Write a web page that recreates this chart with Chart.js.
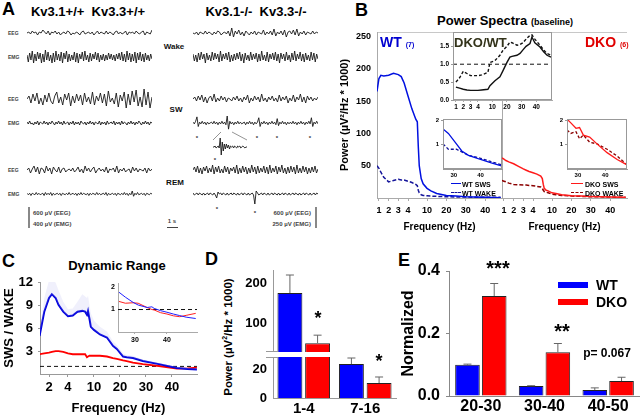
<!DOCTYPE html>
<html>
<head>
<meta charset="utf-8">
<script src="https://cdn.jsdelivr.net/npm/chart.js@4.4.0/dist/chart.umd.min.js"></script>
<style>
  body { margin: 0; width: 640px; height: 416px; position: relative; overflow: hidden; background: #fff;
         font-family: Arial, "Liberation Sans", sans-serif; font-weight: bold; }
  canvas, .abs { position: absolute; }
  .t { position: absolute; white-space: nowrap; line-height: 1; }
  .c { transform: translate(-50%, -50%); }
  .l { transform: translate(0, -50%); }
  .r { transform: translate(-100%, -50%); }
  .small { font-size: 5px; color: #444; }
  .ast { font-size: 6px; color: #333; }
</style>
</head>
<body>
<!-- panel A -->
<div class="t l" style="left:2px;top:9px;font-size:18px">A</div>
<div class="t c" style="left:88px;top:11px;font-size:13px">Kv3.1+/+&nbsp;&nbsp;Kv3.3+/+</div>
<div class="t c" style="left:256px;top:11px;font-size:13px">Kv3.1-/-&nbsp;&nbsp;Kv3.3-/-</div>
<div class="t l small" style="left:8px;top:33px">EEG</div>
<div class="t l small" style="left:8px;top:57px">EMG</div>
<div class="t l small" style="left:8px;top:99px">EEG</div>
<div class="t l small" style="left:8px;top:123px">EMG</div>
<div class="t l small" style="left:8px;top:170px">EEG</div>
<div class="t l small" style="left:8px;top:194px">EMG</div>
<div class="t c" style="left:174px;top:47px;font-size:8px;color:#111">Wake</div>
<div class="t c" style="left:176px;top:110px;font-size:8px;color:#111">SW</div>
<div class="t c" style="left:175px;top:183px;font-size:8px;color:#111">REM</div>
<div class="t c ast" style="left:197px;top:138px">*</div>
<div class="t c ast" style="left:257px;top:138px">*</div>
<div class="t c ast" style="left:277px;top:138px">*</div>
<div class="t c ast" style="left:310px;top:138px">*</div>
<div class="t c ast" style="left:215px;top:160px">*</div>
<div class="t c ast" style="left:217px;top:209px">*</div>
<div class="t c ast" style="left:255px;top:213px">*</div>
<div class="abs" style="left:28px;top:207px;width:2px;height:21px;background:#888"></div>
<div class="t l" style="left:33px;top:213px;font-size:6px;color:#444">600 µV (EEG)</div>
<div class="t l" style="left:33px;top:224px;font-size:6px;color:#444">400 µV (EMG)</div>
<div class="abs" style="left:315px;top:207px;width:2px;height:21px;background:#888"></div>
<div class="t r" style="left:311px;top:213px;font-size:6px;color:#444">600 µV (EEG)</div>
<div class="t r" style="left:311px;top:224px;font-size:6px;color:#444">250 µV (EMG)</div>
<div class="t c" style="left:172px;top:221px;font-size:6px;color:#444">1 s</div>
<div class="abs" style="left:167px;top:227px;width:11px;height:1px;background:#444"></div>
<svg class="abs" style="left:0;top:0" width="330" height="240">
  <line x1="221" y1="132" x2="213" y2="140" stroke="#666" stroke-width="0.7"/>
  <line x1="232" y1="132" x2="247" y2="140" stroke="#666" stroke-width="0.7"/>
</svg>

<!-- panel B -->
<div class="t l" style="left:355px;top:10px;font-size:18px">B</div>
<div class="t c" style="left:505px;top:20px;font-size:13px">Power Spectra <span style="font-size:9px">(baseline)</span></div>
<div class="abs" style="left:377px;top:32px;width:250px;border-top:1px solid #c8c8c8"></div>

<!-- panel C -->
<div class="t l" style="left:2px;top:261px;font-size:18px">C</div>
<div class="t c" style="left:117px;top:265px;font-size:13px">Dynamic Range</div>

<!-- panel D -->
<div class="t l" style="left:205px;top:259px;font-size:18px">D</div>
<div class="t c" style="left:228px;top:337px;font-size:11.5px;transform:translate(-50%,-50%) rotate(-90deg)">Power (µV<sup style="font-size:7px">2</sup>/Hz * 1000)</div>

<!-- panel E -->
<div class="t l" style="left:398px;top:260px;font-size:18px">E</div>

<script>
// ---------- Panel A: EEG / EMG traces (read by eye, arbitrary units) ----------
const wtWakeEEG = [0,1,-1,2,0,1,-2,1,0,3,1,-1,2,-2,1,0,2,-1,1,-2,0,1,-1,2,1,-2,0,-1,1,0,-2,1,2,-1,0,1,-1,1,-2,0,2,-1,1,0,-1,2,-1,1,0,-2,1,2,-1,1,-1,0,2,-2,1,0,1,-1,2,0,-1,1,2,-2,1,0,-1,3];
const wtWakeEMG = [2,-5,4,-3,6,-6,3,-4,5,-2,4,-6,3,-5,7,-3,5,-4,2,-6,4,-5,6,-3,3,-4,5,-6,4,-2,6,-5,3,-4,2,-3,5,-5,4,-6,3,-2,5,-4,6,-3,2,-5,4,-4,3,-2,5,-3,4,-5,2,-3,3,-4,2,-3,4,-2,3,-3,2,-4,3,-2,4,-3,5,-4,3,-5,6,-3,4,-5,3,-4,5,-6,4,-3,5,-4,3,-5,4,-3,2,-4,3,-2];
const wtSwEEG = [0,3,-4,5,-2,6,-5,1,-6,4,-3,6,-2,-5,3,7,-4,2,-6,5,-1,6,-7,3,-4,5,-2,4,-6,6,-3,2,-5,7,-6,3,-2,6,-4,5,-7,8,-3,1,-5,6,-8,4,-2,7,-9,5,-6,8,-3,9,-7,2,-8,10,-6,7,-9,2];
const wtSwEMG = [1,-1,2,-1,0,-2,1,-1,2,-2,1,0,-1,2,-1,1,-2,1,-1,2,0,-2,1,-1,2,-1,1,-2,2,-1,0,1,-2,1,-1,2,-2,1,-1,1,-2,2,0,-1,1,-2,1,-1,2,-1,1,-2,1,0,-1,2,-2,1,-1,1,-2,2,-1,0,1,-1,2,-2,1,-1,1,-2,2,-1,1,0,-2,1,-1,2,-1,1,-2,1,-1,2,0,-2,1,-1,2,-1,1,-2,1,0];
const wtRemEEG = [0,2,-3,1,4,-2,3,-4,2,1,-3,4,-1,2,-4,3,0,-2,3,-3,1,2,-2,0,1,-1,2,-2,0,3,-2,1,-3,4,-1,2,-2,1,3,-3,0,2,-1,1,-2,3,-3,1,0,2,-2,4,-3,1,-1,2,-2,0,1,-3,3,-1,2,-2,1,0,-1,2,-3,2,-1,1];
const wtRemEMG = [1,-1,1,-2,1,0,-1,2,-1,1,-1,0,1,-2,2,-1,1,-1,2,-2,1,-1,0,1,-1,1,-2,1,0,-1,1,-1,2,-1,0,1,-1,1,-2,1,-1,2,-1,1,0,-1,1,-2,1,-1,1,0,-1,2,-1,1,-1,0,1,-1,2,-2,1,-1,0,1,-1,1,-2,1,0,-1,1,-1,2,-1,1,-2,1,-1,4,-3,1,-1,2,-1,0,1,-1,1,-2,1,0,-1,1,0];
const koWakeEEG = [0,-1,1,-2,1,0,-1,2,-1,1,0,-2,1,-1,2,1,-2,0,1,-1,2,-3,5,-4,2,-1,3,-2,1,-3,2,0,-2,1,-1,2,-2,1,0,-1,3,-2,1,-1,2,-2,4,-3,1,-1,2,-2,3,-4,1,2,-1,3,-2,4,-3,1,-1,2,-2,1,0,-1,2,-1,1,0];
const koWakeEMG = [3,-4,2,-5,4,-3,5,-2,3,-6,4,-3,2,-4,5,-3,4,-2,3,-5,6,-4,3,-2,4,-3,5,-5,2,-4,3,-3,4,-2,5,-4,3,-6,4,-3,2,-4,5,-3,3,-2,4,-5,3,-4,6,-3,2,-4,5,-5,3,-2,4,-3,5,-4,3,-6,4,-2,3,-4,5,-3,2,-5,4,-3,6,-4,3,-2,5,-4,3,-5,4,-3,2,-4,5,-3,4,-5,3,-2];
const koSwEEG = [0,2,-2,3,-1,4,-3,2,-4,1,3,-2,5,-3,1,-2,3,-1,2,-3,1,0,-2,2,-1,3,-2,1,-3,2,-1,4,-4,1,-2,3,-1,2,-3,5,-2,1,-3,2,-1,3,-2,1,-3,4,-2,2,-1,3,-4,1,-2,4,-3,2,-1,5,-3,2,-4,3,-1,2,-2,1,-1,2];
const koSwEMG = [1,-1,2,7,-4,1,-1,2,-1,1,-2,1,-1,0,1,-1,2,-1,1,-2,1,-1,2,-1,1,-2,8,-7,2,-1,1,-2,1,-1,2,-1,1,-1,0,1,-2,1,-1,2,-1,1,-2,1,-1,1,6,-4,1,-1,2,-1,1,-2,1,-1,2,-1,1,-2,5,-3,1,-1,2,-1,1,-2,1,-1,1,-1,2,-1,1,-2,1,-1,2,-1,1,-2,1,-1,2,-1,6,-4,1,-1,2,-1];
const koRemEEG = [0,3,-2,4,-3,2,-4,3,-1,4,-3,2,-2,5,-4,3,-2,4,-3,1,-3,4,-2,3,-4,2,-1,3,-3,5,-4,2,-3,4,-2,3,-4,2,-3,5,-2,3,-4,4,-3,2,-2,4,-3,3,-4,5,-3,2,-2,4,-4,3,-2,5,-3,2,-4,3,-3,4,-2,3,-4,5,-3,2,-3,4,-2,3,-4,2,-3,3,-2,4,-3,1];
const koRemEMG = [1,-1,0,1,-1,1,0,-1,1,-1,0,1,-1,1,0,-1,1,-1,-4,2,0,1,-1,1,0,-1,1,-1,0,1,-1,1,0,-1,1,-1,0,1,-1,1,0,-1,1,-1,0,1,-1,-10,3,1,-1,0,1,-1,1,0,-1,1,-1,0,1,-1,1,0,-1,1,-1,0,1,-1,1,0,-1,1,-1,0,1,-1,1,0,-1,1,-1,0,1,-1,1,0,-1,1,-1,0,1,-1,1,0];
const zoomTrace = [0,0,1,-1,0,1,-1,9,-8,5,-4,3,-2,3,-1,2,-2,1,0,1,-1,1,0,-1,1,0,1,-1,0,1,0,-1,0,0];

// ---------- Panel B: power spectra ----------
const freqB = [0.8,1,1.2,1.5,2,2.5,3,3.3,3.6,4,4.4,4.8,5,5.5,6,7,8,10,12,15,20,25,30,40,48];
const wtSws = [165,185,190,189,190,193,191,188,178,158,138,122,118,80,50,30,22,15,11,7,4,3,2,1,0.5];
const wtWake = [50,46,40,32,25,27,29,28,28,26,24,21,19,12,8,5,4,3.5,3,2.5,2,1.5,1.5,1,1];
const dkoSws = [62,60,58,56,53,49,45,43,41,39,37,34,30,21,15,12,11,8,7,5,3.5,3,2.5,1.5,1];
const dkoWake = [27,26,25,23,21,20.5,20,20,19.5,19,18,17,15,12,10,9,8,6,5,4,3,2.5,2,1.5,1];
const freqTicksB = [1,2,3,4,10,20,30,40];
const powerTicks = [50,100,150,200,250];

const ratioF = [1,1.5,2,2.5,3,3.5,4,4.5,7,8.4,11.8,15.2,17.3,20,22,23.4,26.8,28.9,30.9,33,35.7,37,39,42.5,45,47.3,50];
const ratioSws = [0.36,0.33,0.3,0.28,0.27,0.27,0.27,0.28,0.3,0.4,0.54,0.65,0.82,1.05,1.2,1.22,1.25,1.3,1.4,1.5,1.58,1.76,1.6,1.48,1.35,1.25,1.2];
const ratioWake = [0.5,0.62,0.8,0.74,0.68,0.68,0.68,0.7,0.77,1.05,1.1,1.25,1.39,1.5,1.62,1.6,1.53,1.55,1.6,1.7,1.81,1.82,1.7,1.53,1.4,1.3,1.25];
const ratioTicks = [0,0.5,1,1.5];

const wtInsF = [26,28,31,33,35.5,38,40,44,47.8];
const wtInsSws = [1.64,1.46,1.03,0.74,0.56,0.47,0.39,0.25,0.13];
const wtInsWake = [1.03,0.81,0.81,0.7,0.56,0.5,0.44,0.3,0.17];
const dkoInsF = [26,27.4,29.3,30.6,32,34.3,37,40.7,44.4,48];
const dkoInsSws = [2.05,1.89,1.67,1.7,1.39,1.31,1.03,0.67,0.39,0.17];
const dkoInsWake = [1.6,1.46,1.53,1.24,1.39,1.1,1.03,0.81,0.53,0.17];
const insTicksX = [30,40];
const insTicksY = [1,2];

// ---------- Panel C: SWS / WAKE ----------
const freqC = [1,1.5,2,2.3,2.7,3,3.5,4,4.5,5,5.5,6.6,7.3,7.7,8.3,8.8,10,12.3,15,17.3,18.8,21.2,22.6,25,28.8,35,41.9,46,49.6];
const wtC = [5,8.2,10,10.5,10,9.1,8.2,7.6,7.7,8.2,8.3,8.2,7.8,8.3,7.2,6.2,5.8,5.2,4.8,3.7,3.3,2.3,2.2,2.1,1.7,1.3,0.8,0.65,0.6];
const wtCUpper = [5.5,10,12.3,12.5,12,11,9.5,8.5,8.6,9.5,10.5,10.2,10,10.3,9,8,7,6.2,5.6,4.3,3.8,2.7,2.5,2.4,1.9,1.45,0.95,0.8,0.7];
const dkoC = [2.6,2.7,2.8,2.9,3,3,2.9,2.7,2.6,2.6,2.6,2.6,2.2,2.3,2.4,2.4,2.4,2.4,2.3,2.1,2,1.8,1.7,1.5,1.3,1.05,0.7,0.74,0.83];
const freqTicksC = [2,4,10,20,30,40];
const rangeTicks = [3,6,9,12];
const cInsF = [25,27,29.4,31,33.8,35.3,36,38,40,42,44,46,49];
const cInsWt = [1.77,1.55,1.32,1.2,1.09,1.12,1.05,0.95,0.88,0.8,0.73,0.66,0.6];
const cInsDko = [1.36,1.28,1.3,1.28,1.09,1.0,0.98,0.86,0.8,0.72,0.68,0.74,0.83];

// ---------- Panel D: band power ----------
const dGroups = ['1-4', '7-16'];
const dWt = [175, 23.4];
const dWtErr = [45, 4.2];
const dDko = [50, 10.3];
const dDkoErr = [20, 4.2];

// ---------- Panel E: normalized power ----------
const eGroups = ['20-30', '30-40', '40-50'];
const eWt = [0.1, 0.032, 0.019];
const eWtErr = [0.002, 0.001, 0.007];
const eDko = [0.32, 0.14, 0.048];
const eDkoErr = [0.04, 0.028, 0.012];

// ---------- setup ----------
Chart.defaults.font.family = 'Arial, "Liberation Sans", sans-serif';
Chart.defaults.font.weight = 'bold';
Chart.defaults.color = '#000';
Chart.defaults.animation = false;
Chart.defaults.responsive = false;
Chart.defaults.events = [];
Chart.defaults.plugins.legend.display = false;
Chart.defaults.plugins.tooltip.enabled = false;

const BLUE = '#0010e0', NAVY = '#14149a', RED = '#ff1a1a', DARKRED = '#8b0000';
const noGrid = { display: false, drawTicks: false };

function canvasAt(left, top, w, h) {
    const c = document.createElement('canvas');
    c.width = w;
    c.height = h;
    c.style.left = left + 'px';
    c.style.top = top + 'px';
    document.body.appendChild(c);
    return c;
}

// fixed axis sizes, and no extra padding for labels hanging over the ends
const fitW = w => s => { s.width = w; s.paddingTop = 0; s.paddingBottom = 0; };
const fitH = h => s => { s.height = h; s.paddingLeft = 0; s.paddingRight = 0; };

// broken frequency axes: 1-4 Hz stretched, the rest compressed
const toUB = f => f < 4.95 ? f : 3.96 + f / 5;
const toUC = f => f < 5.5 ? f : 4 + 0.274 * f;
const pts = (xs, ys, tx) => xs.map((f, i) => ({ x: tx ? tx(f) : f, y: ys[i] }));
const fixedTicks = list => s => { s.ticks = list.map(v => ({ value: v })); };
const line = (data, color, width, dash) => ({
    data, borderColor: color, borderWidth: width, borderDash: dash || [],
    showLine: true, pointRadius: 0, tension: 0
});

const whiteArea = {
    id: 'whiteArea',
    beforeDraw(chart) {
        const a = chart.chartArea;
        chart.ctx.save();
        chart.ctx.fillStyle = '#fff';
        chart.ctx.fillRect(a.left, a.top, a.right - a.left, a.bottom - a.top);
        chart.ctx.restore();
    }
};
const frame = {
    id: 'frame',
    afterDraw(chart) {
        const a = chart.chartArea;
        chart.ctx.save();
        chart.ctx.strokeStyle = '#999';
        chart.ctx.lineWidth = 1;
        chart.ctx.strokeRect(a.left + 0.5, a.top + 0.5, a.right - a.left - 1, a.bottom - a.top - 1);
        chart.ctx.restore();
    }
};
// dashed reference line at ratio = 1
const refLine = {
    id: 'refLine',
    beforeDatasetsDraw(chart) {
        const a = chart.chartArea, y = chart.scales.y.getPixelForValue(1);
        const ctx = chart.ctx;
        ctx.save();
        ctx.strokeStyle = '#111';
        ctx.lineWidth = 1;
        ctx.setLineDash([4, 3]);
        ctx.beginPath();
        ctx.moveTo(a.left, y);
        ctx.lineTo(a.right, y);
        ctx.stroke();
        ctx.restore();
    }
};
const errorBars = {
    id: 'errorBars',
    afterDatasetsDraw(chart) {
        const ctx = chart.ctx, a = chart.chartArea, y = chart.scales.y;
        ctx.save();
        ctx.beginPath();
        ctx.rect(a.left, a.top, a.right - a.left, a.bottom - a.top);
        ctx.clip();
        ctx.strokeStyle = '#666';
        ctx.lineWidth = 1;
        chart.data.datasets.forEach((ds, i) => {
            chart.getDatasetMeta(i).data.forEach((bar, j) => {
                const top = y.getPixelForValue(ds.data[j] + ds.err[j]);
                if (top > a.bottom - 1) return; // whisker lies in the other half of the broken axis
                ctx.beginPath();
                ctx.moveTo(bar.x, bar.y);
                ctx.lineTo(bar.x, top);
                ctx.moveTo(bar.x - 4, top);
                ctx.lineTo(bar.x + 4, top);
                ctx.stroke();
            });
        });
        ctx.restore();
    }
};

// ---------- Panel A ----------
const traceSpecs = [
    { data: wtWakeEEG, x: 27, y: 33, w: 125, h: 10, amp: 5 },
    { data: wtWakeEMG, x: 27, y: 57, w: 125, h: 14, amp: 7 },
    { data: wtSwEEG, x: 27, y: 99, w: 125, h: 22, amp: 11 },
    { data: wtSwEMG, x: 27, y: 123, w: 125, h: 6, amp: 3 },
    { data: wtRemEEG, x: 27, y: 170, w: 125, h: 10, amp: 5 },
    { data: wtRemEMG, x: 27, y: 194, w: 125, h: 6, amp: 4 },
    { data: koWakeEEG, x: 193, y: 33, w: 125, h: 10, amp: 5 },
    { data: koWakeEMG, x: 193, y: 57, w: 125, h: 14, amp: 7 },
    { data: koSwEEG, x: 193, y: 99, w: 125, h: 12, amp: 6 },
    { data: koSwEMG, x: 193, y: 123, w: 125, h: 14, amp: 8 },
    { data: koRemEEG, x: 193, y: 170, w: 125, h: 12, amp: 6 },
    { data: koRemEMG, x: 193, y: 194, w: 125, h: 20, amp: 10 },
    { data: zoomTrace, x: 213, y: 147, w: 34, h: 18, amp: 9 }
];
traceSpecs.forEach(spec => {
    new Chart(canvasAt(spec.x, spec.y - spec.h / 2, spec.w, spec.h), {
        type: 'line',
        data: {
            labels: spec.data.map((_, i) => i),
            datasets: [{ data: spec.data, borderColor: '#1a1a1a', borderWidth: 0.9, pointRadius: 0, tension: 0 }]
        },
        options: { scales: { x: { display: false }, y: { display: false, min: -spec.amp, max: spec.amp } } }
    });
});

// ---------- Panel B ----------
function spectrumX(min, max, size, height, withTitle) {
    return {
        type: 'linear', min, max,
        afterBuildTicks: s => { s.ticks = freqTicksB.map(f => ({ value: toUB(f) })); },
        afterFit: fitH(height),
        ticks: { font: { size }, padding: withTitle ? 4 : 1, maxRotation: 0, autoSkip: false, callback: (v, i) => freqTicksB[i] },
        grid: { drawOnChartArea: false, tickLength: withTitle ? 3 : 2, color: '#aaa' },
        border: { color: '#aaa' },
        title: { display: withTitle, text: 'Frequency (Hz)', font: { size: 10 }, padding: { top: 0, bottom: 7 } }
    };
}

new Chart(canvasAt(330, 22, 175, 218), {
    type: 'scatter',
    data: { datasets: [line(pts(freqB, wtSws, toUB), BLUE, 1.5), line(pts(freqB, wtWake, toUB), NAVY, 1.5, [4, 2])] },
    options: {
        layout: { padding: { top: 10, right: 3 } },
        scales: {
            x: spectrumX(0.8, 13.7, 9, 42, true),
            y: {
                min: 0, max: 257, afterBuildTicks: fixedTicks(powerTicks), afterFit: fitW(47),
                ticks: { font: { size: 9 }, padding: 6 }, grid: noGrid, border: { color: '#aaa' },
                title: { display: true, text: 'Power (µV²/Hz * 1000)', font: { size: 11 }, padding: { top: 8 } }
            }
        }
    }
});

new Chart(canvasAt(500, 22, 140, 218), {
    type: 'scatter',
    data: { datasets: [line(pts(freqB, dkoSws, toUB), RED, 1.5), line(pts(freqB, dkoWake, toUB), DARKRED, 1.5, [4, 2])] },
    options: {
        layout: { padding: { top: 10, right: 13 } },
        scales: {
            x: spectrumX(0.8, 13.7, 9, 42, true),
            y: { min: 0, max: 257, afterFit: fitW(2), ticks: { display: false }, grid: noGrid, border: { color: '#aaa' } }
        }
    }
});

// DKO / WT ratio inset
new Chart(canvasAt(433, 28, 121, 87), {
    type: 'scatter',
    data: { datasets: [line(pts(ratioF, ratioSws, toUB), '#111', 1.4), line(pts(ratioF, ratioWake, toUB), '#111', 1.4, [3, 2])] },
    options: {
        layout: { padding: { top: 4, right: 2 } },
        scales: {
            x: spectrumX(0.6, 14.1, 6.5, 15, false),
            y: {
                min: 0, max: 1.9, afterBuildTicks: fixedTicks(ratioTicks), afterFit: fitW(20),
                ticks: { font: { size: 6.5 }, padding: 2, callback: v => v.toFixed(1) },
                grid: { drawOnChartArea: false, tickLength: 2, color: '#999' }, border: { color: '#999' }
            }
        }
    },
    plugins: [whiteArea, refLine, frame]
});

function zoomInset(left, width, xs, solid, dashed, cSolid, cDashed) {
    new Chart(canvasAt(left, 116, width, 64), {
        type: 'scatter',
        data: { datasets: [line(pts(xs, solid), cSolid, 1.3), line(pts(xs, dashed), cDashed, 1.3, [3, 2])] },
        options: {
            layout: { padding: { top: 3, right: 2 } },
            scales: {
                x: {
                    type: 'linear', min: 26, max: 48, afterBuildTicks: fixedTicks(insTicksX), afterFit: fitH(11),
                    ticks: { font: { size: 6 }, padding: 1 }, grid: { drawOnChartArea: false, tickLength: 2, color: '#999' }, border: { color: '#999' }
                },
                y: {
                    min: 0, max: 2.05, afterBuildTicks: fixedTicks(insTicksY), afterFit: fitW(15),
                    ticks: { font: { size: 6 }, padding: 2 }, grid: { drawOnChartArea: false, tickLength: 2, color: '#999' }, border: { color: '#999' }
                }
            }
        },
        plugins: [whiteArea, frame]
    });
}
zoomInset(428, 76, wtInsF, wtInsSws, wtInsWake, BLUE, NAVY);
zoomInset(552, 77, dkoInsF, dkoInsSws, dkoInsWake, RED, DARKRED);

// ---------- Panel C ----------
new Chart(canvasAt(0, 262, 200, 154), {
    type: 'scatter',
    data: {
        datasets: [
            Object.assign(line(pts(freqC, wtCUpper, toUC), 'rgba(0,0,0,0)', 0), { fill: 1, backgroundColor: 'rgba(170,170,240,0.18)' }),
            line(pts(freqC, wtC, toUC), '#0000dd', 2),
            line(pts(freqC, dkoC, toUC), '#ff0000', 1.8)
        ]
    },
    options: {
        layout: { padding: { top: 20, right: 3 } },
        scales: {
            x: {
                type: 'linear', min: 1.05, max: 17.6,
                afterBuildTicks: s => { s.ticks = freqTicksC.map(f => ({ value: toUC(f) })); },
                afterFit: fitH(42),
                ticks: { font: { size: 13 }, padding: 3, maxRotation: 0, autoSkip: false, callback: (v, i) => freqTicksC[i] },
                grid: { drawOnChartArea: false, tickLength: 3, color: '#999' }, border: { color: '#999' },
                title: { display: true, text: 'Frequency (Hz)', font: { size: 13 }, padding: { top: 0, bottom: 0 } }
            },
            y: {
                min: 0, max: 12.1, afterBuildTicks: fixedTicks(rangeTicks), afterFit: fitW(40),
                ticks: { font: { size: 13 }, padding: 5 }, grid: { drawOnChartArea: false, tickLength: 2, color: '#999' }, border: { color: '#999' },
                title: { display: true, text: 'SWS / WAKE', font: { size: 13 }, padding: { top: 2 } }
            }
        }
    },
    plugins: [refLine]
});

new Chart(canvasAt(100, 279, 99, 66), {
    type: 'scatter',
    data: { datasets: [line(pts(cInsF, cInsWt), '#2020ff', 1), line(pts(cInsF, cInsDko), '#ff2020', 1)] },
    options: {
        layout: { padding: { top: 4, right: 2 } },
        scales: {
            x: {
                type: 'linear', min: 24.7, max: 49.4, afterBuildTicks: fixedTicks(insTicksX), afterFit: fitH(13),
                ticks: { font: { size: 7 }, padding: 2 }, grid: { drawOnChartArea: false, tickLength: 2, color: '#aaa' }, border: { color: '#aaa' }
            },
            y: {
                min: 0, max: 2.18, afterBuildTicks: fixedTicks(insTicksY), afterFit: fitW(18),
                ticks: { font: { size: 7 }, padding: 3 }, grid: noGrid, border: { color: '#aaa' }
            }
        }
    },
    plugins: [whiteArea, refLine]
});

// ---------- Panel D (broken y axis: two stacked charts) ----------
function bandBars(top, height, yMin, yMax, ticks, showX) {
    new Chart(canvasAt(205, top, 193, height), {
        type: 'bar',
        data: {
            labels: dGroups,
            datasets: [
                { data: dWt, err: dWtErr, backgroundColor: '#0000ff', borderColor: '#222', borderWidth: 1, clip: 0 },
                { data: dDko, err: dDkoErr, backgroundColor: '#ff0000', borderColor: '#222', borderWidth: 1, clip: 0 }
            ]
        },
        options: {
            datasets: { bar: { categoryPercentage: 0.9, barPercentage: 0.9 } },
            layout: { padding: { top: showX ? 0 : 10, right: 2 } },
            scales: {
                x: showX
                    ? { afterFit: fitH(18), ticks: { font: { size: 15 }, padding: 2 }, grid: noGrid, border: { color: '#999' } }
                    : { display: false },
                y: {
                    min: yMin, max: yMax, afterBuildTicks: fixedTicks(ticks), afterFit: fitW(68),
                    ticks: { font: { size: 13 }, padding: 6 }, grid: noGrid, border: { color: '#999' }
                }
            }
        },
        plugins: [errorBars]
    });
}
bandBars(260, 92, 28, 232.5, [100, 200], false);
bandBars(357, 59, 0, 28.3, [0, 20], true);

// ---------- Panel E ----------
new Chart(canvasAt(398, 260, 242, 156), {
    type: 'bar',
    data: {
        labels: eGroups,
        datasets: [
            { data: eWt, err: eWtErr, backgroundColor: '#0000ff', borderColor: '#222', borderWidth: 1 },
            { data: eDko, err: eDkoErr, backgroundColor: '#ff0000', borderColor: '#222', borderWidth: 1 }
        ]
    },
    options: {
        datasets: { bar: { categoryPercentage: 0.84, barPercentage: 0.92 } },
        layout: { padding: { top: 11 } },
        scales: {
            x: { afterFit: fitH(20), ticks: { font: { size: 16 }, padding: 1 }, grid: noGrid, border: { color: '#888' } },
            y: {
                min: 0, max: 0.4, afterBuildTicks: fixedTicks([0, 0.2, 0.4]), afterFit: fitW(51),
                ticks: { font: { size: 16 }, padding: 6, callback: v => v.toFixed(1) },
                grid: { drawOnChartArea: false, tickLength: 3, color: '#888' }, border: { color: '#888' },
                title: { display: true, text: 'Normalized', font: { size: 16 }, padding: { top: 1 } }
            }
        }
    },
    plugins: [errorBars]
});
</script>

<!-- labels that sit on top of the charts -->
<div class="t l" style="left:380px;top:42px;font-size:14px;color:#0000d0">WT <span style="font-size:7px">(7)</span></div>
<div class="t l" style="left:585px;top:42px;font-size:14px;color:#e00000">DKO <span style="font-size:7px">(6)</span></div>
<div class="t l" style="left:454px;top:42px;font-size:13px;color:#33331a">DKO/WT</div>
<div class="abs" style="left:451px;top:183px;width:10px;border-top:1.5px solid #0010e0"></div>
<div class="t l" style="left:462px;top:184px;font-size:7px">WT SWS</div>
<div class="abs" style="left:451px;top:192px;width:10px;border-top:1.5px dashed #14149a"></div>
<div class="t l" style="left:462px;top:193px;font-size:7px">WT WAKE</div>
<div class="abs" style="left:571px;top:183px;width:12px;border-top:1.5px solid #ff1a1a"></div>
<div class="t l" style="left:585px;top:184px;font-size:7px">DKO SWS</div>
<div class="abs" style="left:571px;top:192px;width:12px;border-top:1.5px dashed #8b0000"></div>
<div class="t l" style="left:585px;top:193px;font-size:7px">DKO WAKE</div>
<div class="abs" style="left:266px;top:351px;width:12px;border-top:1px solid #999"></div>
<div class="abs" style="left:266px;top:357px;width:12px;border-top:1px solid #999"></div>
<div class="t c" style="left:318px;top:318px;font-size:18px">*</div>
<div class="t c" style="left:379px;top:361px;font-size:18px">*</div>
<div class="t c" style="left:498px;top:268px;font-size:20px">***</div>
<div class="t c" style="left:562px;top:331px;font-size:20px">**</div>
<div class="t c" style="left:607px;top:353px;font-size:12px">p= 0.067</div>
<div class="abs" style="left:558px;top:282px;width:30px;height:6px;background:#0000ff"></div>
<div class="t l" style="left:596px;top:285px;font-size:14px">WT</div>
<div class="abs" style="left:558px;top:299px;width:30px;height:6px;background:#ff0000"></div>
<div class="t l" style="left:596px;top:302px;font-size:14px">DKO</div>
</body>
</html>
